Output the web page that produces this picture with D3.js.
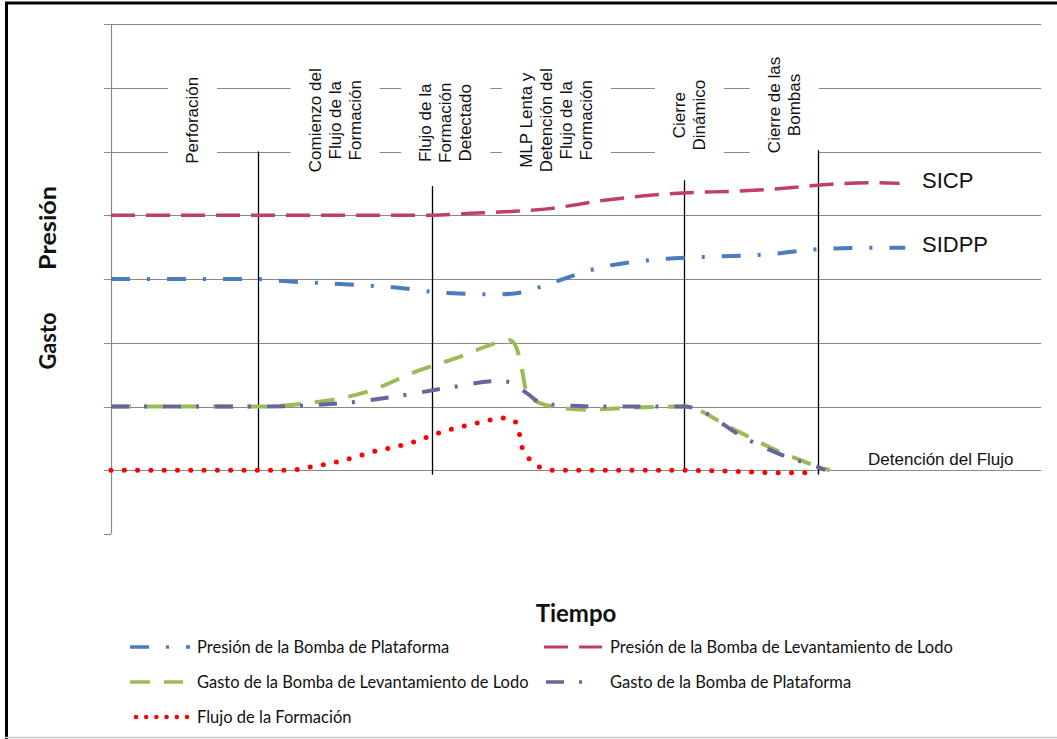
<!DOCTYPE html>
<html><head><meta charset="utf-8">
<script src="https://cdn.jsdelivr.net/npm/d3@7/dist/d3.min.js"></script>
<style>body{margin:0;background:#fff;overflow:hidden}</style>
</head><body>
<svg id="c" width="1057" height="739"></svg>
<script>
// ---------- DATA ----------
const timeDomain = [0, 100];
const levelDomain = [0, 8];
const levelTicks = [0, 1, 2, 3, 4, 5, 6, 7, 8];

// Presión de la Bomba de Levantamiento de Lodo (SICP)
const presionLevantamiento = [[0,5],[34.5,5],[38.6,5.03],[46.9,5.10],[53.3,5.24],[61.5,5.35],[67.6,5.38],[73.0,5.43],[75.9,5.47],[81.9,5.51],[84.8,5.50]];
// Presión de la Bomba de Plataforma (SIDPP)
const presionPlataforma = [[0,4],[15.8,4],[17.4,3.98],[24.6,3.92],[30.3,3.87],[36.1,3.78],[41.8,3.76],[44.5,3.80],[46.8,3.91],[52.9,4.19],[59.0,4.31],[64.7,4.35],[70.9,4.39],[76.2,4.47],[82.7,4.49],[85.4,4.49]];
// Gasto de la Bomba de Levantamiento de Lodo
const gastoLevantamiento = [[0,2],[15.8,2],[21.1,2.05],[27.5,2.23],[33.2,2.57],[37.5,2.78],[41.8,3.01],[42.9,3.04],[43.6,2.92],[44.2,2.57],[44.7,2.21],[45.6,2.09],[48.3,1.98],[51.0,1.95],[55.6,1.98],[61.6,2.0],[66.7,1.66],[71.9,1.29],[76.2,1.05],[77.3,1.0]];
// Gasto de la Bomba de Plataforma
const gastoPlataforma = [[0,2],[15.8,2],[24.6,2.05],[30.3,2.15],[36.1,2.29],[41.8,2.40],[42.9,2.38],[44.7,2.21],[46.5,2.04],[52.6,2.0],[61.6,2.0],[68.6,1.47],[73.0,1.19],[76.2,1.04],[76.8,1.0]];
// Flujo de la Formación
const flujoFormacion = [[0,1],[19.2,1],[21.4,1.05],[24.3,1.13],[28.2,1.29],[32.5,1.44],[35.1,1.58],[39.4,1.74],[42.2,1.82],[43.1,1.80],[43.7,1.71],[44.2,1.36],[45.1,1.16],[46.1,1.05],[47.2,1.0],[61.6,1.0],[73.1,0.96],[75.8,0.96]];

const phaseLabels = ["Perforación", "Comienzo del\nFlujo de la\nFormación", "Flujo de la\nFormación\nDetectado", "MLP Lenta y\nDetención del\nFlujo de la\nFormación", "Cierre\nDinámico", "Cierre de las\nBombas"];
const phaseTimes = [8.76, 24.1, 36.0, 47.9, 62.2, 72.4];
const phaseLevels = [6.49, 6.49, 6.45, 6.49, 6.57, 6.73];

const eventTimes = [15.8, 34.5, 61.6, 76.0];
const eventTops = [6.0, 5.46, 5.55, 6.02];
const eventBottoms = [1.0, 0.93, 1.0, 0.93];

const endLabels = ["SICP", "SIDPP", "Detención del Flujo"];
const endLabelTimes = [87.2, 87.2, 81.4];
const endLabelLevels = [5.43, 4.42, 1.08];

const legendLabels = ["Presión de la Bomba de Plataforma", "Presión de la Bomba de Levantamiento de Lodo", "Gasto de la Bomba de Levantamiento de Lodo", "Gasto de la Bomba de Plataforma", "Flujo de la Formación"];
const axisTitleX = "Tiempo";
const axisTitlesY = ["Presión", "Gasto"];

// ---------- STYLES ----------
const seriesDefs = [
  {data: gastoLevantamiento, color: "#9BBB59", width: 4, dash: "20 14", cap: "butt", legend: 2},
  {data: gastoPlataforma, color: "#66669C", width: 4, dash: "18 15 3 16", cap: "butt", legend: 3},
  {data: presionLevantamiento, color: "#BF3F66", width: 3.5, dash: "24 11", cap: "butt", legend: 1},
  {data: presionPlataforma, color: "#4A7CC0", width: 4, dash: "19 17 3 17", cap: "butt", legend: 0},
  {data: flujoFormacion, color: "#FF0000", width: 5, dash: "0 13.3", cap: "round", legend: 4}
];

const svg = d3.select("#c");
const W = 1057, H = 739;
const x = d3.scaleLinear().domain(timeDomain).range([111, 1041]);
const y = d3.scaleLinear().domain(levelDomain).range([534, 24]);
const gridColor = "#8a8a8a";

// frame
svg.append("rect").attr("width", W).attr("height", H).attr("fill", "#fff");
svg.append("line").attr("x1", 5).attr("x2", W).attr("y1", 3).attr("y2", 3).attr("stroke", "#000").attr("stroke-width", 3);
svg.append("line").attr("x1", 6.5).attr("x2", 6.5).attr("y1", 2).attr("y2", H).attr("stroke", "#000").attr("stroke-width", 3);
svg.append("line").attr("x1", 5).attr("x2", W).attr("y1", 737.5).attr("y2", 737.5).attr("stroke", "#c8c8c8").attr("stroke-width", 1.5);

// gridlines and y axis ticks
const grid = svg.append("g");
grid.selectAll("line.g").data(levelTicks).join("line")
  .attr("x1", 104).attr("x2", d => d === 0 ? 111 : x(timeDomain[1]))
  .attr("y1", d => Math.round(y(d)) + 0.5).attr("y2", d => Math.round(y(d)) + 0.5)
  .attr("stroke", gridColor).attr("stroke-width", 1.2);
grid.append("line").attr("x1", 111.5).attr("x2", 111.5).attr("y1", y(8)).attr("y2", y(0))
  .attr("stroke", gridColor).attr("stroke-width", 1.2);

// phase labels with white boxes
const lg = svg.append("g");
phaseLabels.forEach((lab, i) => {
  const lines = lab.split("\n");
  const g = lg.append("g").attr("transform", `translate(${x(phaseTimes[i])},${y(phaseLevels[i])}) rotate(-90)`);
  const rect = g.append("rect").attr("fill", "#fff");
  const t = g.append("text").attr("font-family", "'Liberation Sans', Arial, sans-serif").attr("font-size", 17)
    .attr("fill", "#111").attr("text-anchor", "middle");
  lines.forEach((ln, j) => {
    t.append("tspan").attr("x", 0).attr("y", (j - (lines.length - 1) / 2) * 20).attr("dominant-baseline", "central").text(ln);
  });
  const bb = t.node().getBBox();
  rect.attr("x", bb.x - 22).attr("width", bb.width + 44).attr("y", bb.y - 15).attr("height", bb.height + 30);
});

// event lines
svg.append("g").selectAll("line").data(eventTimes).join("line")
  .attr("x1", d => Math.round(x(d)) + 0.5).attr("x2", d => Math.round(x(d)) + 0.5)
  .attr("y1", (d, i) => y(eventTops[i])).attr("y2", (d, i) => y(eventBottoms[i]))
  .attr("stroke", "#000").attr("stroke-width", 1.3);

// series
const line = d3.line().x(d => x(d[0])).y(d => y(d[1])).curve(d3.curveMonotoneX);
svg.append("g").selectAll("path").data(seriesDefs).join("path")
  .attr("d", d => line(d.data)).attr("fill", "none")
  .attr("stroke", d => d.color).attr("stroke-width", d => d.width)
  .attr("stroke-dasharray", d => d.dash).attr("stroke-linecap", d => d.cap);

// end labels
svg.append("g").selectAll("text").data(endLabels).join("text")
  .attr("x", (d, i) => x(endLabelTimes[i])).attr("y", (d, i) => y(endLabelLevels[i]))
  .attr("font-family", "'Liberation Sans', Arial, sans-serif")
  .attr("font-size", (d, i) => i < 2 ? 22 : 17).attr("fill", "#111")
  .text(d => d);

// axis titles
const calib = "Lato, 'Open Sans', sans-serif";
svg.append("text").attr("x", 576).attr("y", 622).attr("text-anchor", "middle")
  .attr("font-family", calib).attr("font-weight", "bold").attr("font-size", 24).attr("fill", "#111").text(axisTitleX);
const yTitleCenters = [228, 341];
const yTitleLengths = [84, 57];
axisTitlesY.forEach((t, i) => {
  svg.append("text").attr("transform", `translate(56,${yTitleCenters[i]}) rotate(-90)`)
    .attr("text-anchor", "middle").attr("font-family", calib).attr("font-weight", "bold")
    .attr("font-size", 22).attr("textLength", yTitleLengths[i]).attr("lengthAdjust", "spacingAndGlyphs")
    .attr("fill", "#111").text(t);
});

// legend
const legendPos = [
  {sx: 130, ex: 190, tx: 197, y: 647},
  {sx: 544, ex: 602, tx: 610, y: 647},
  {sx: 130, ex: 183, tx: 197, y: 682},
  {sx: 546, ex: 583, tx: 610, y: 682},
  {sx: 136, ex: 187, tx: 197, y: 717}
];
const leg = svg.append("g");
seriesDefs.forEach(s => {
  const p = legendPos[s.legend];
  leg.append("line").attr("x1", p.sx).attr("x2", p.ex).attr("y1", p.y).attr("y2", p.y)
    .attr("stroke", s.color).attr("stroke-width", s.width - 0.5)
    .attr("stroke-dasharray", s.cap === "round" ? "0 10.2" : s.dash).attr("stroke-linecap", s.cap);
  leg.append("text").attr("x", p.tx).attr("y", p.y).attr("dominant-baseline", "central")
    .attr("font-family", calib).attr("font-size", 16.5).attr("fill", "#111").text(legendLabels[s.legend]);
});
</script>
</body></html>
